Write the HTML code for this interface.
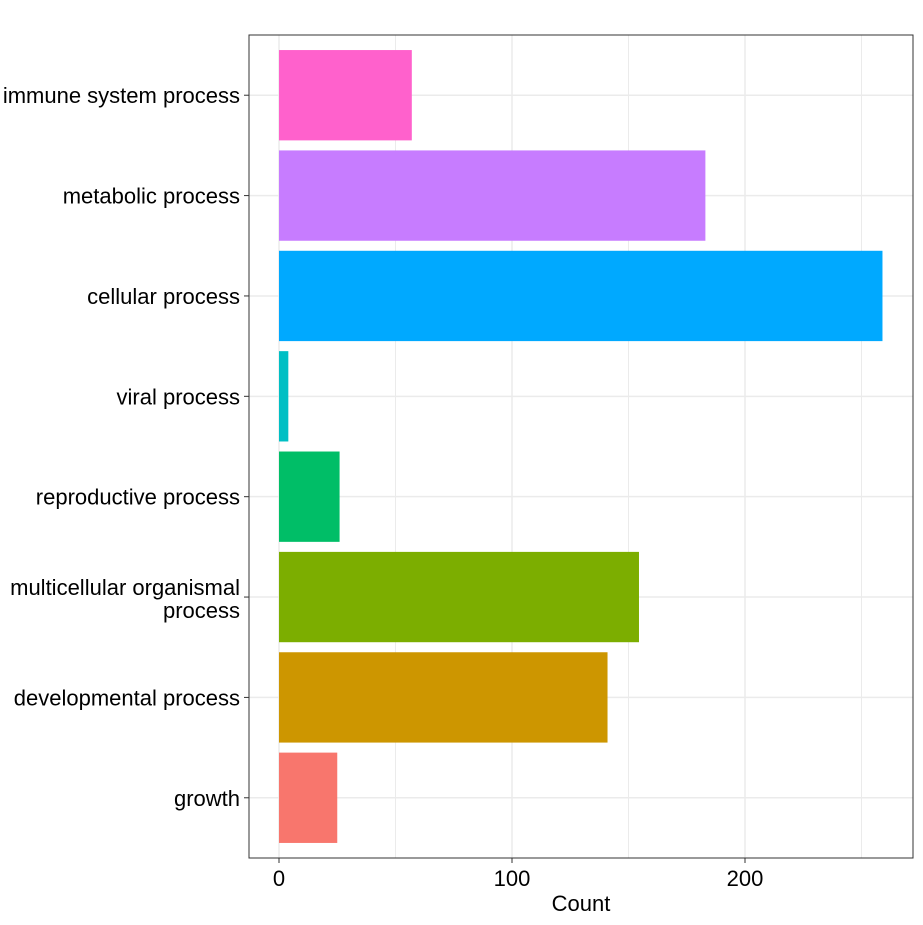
<!DOCTYPE html>
<html><head><meta charset="utf-8"><style>
body{margin:0;background:#fff;}
svg text{font-family:"Liberation Sans",Arial,sans-serif;}
</style></head><body>
<svg id="chart" width="923" height="920" xmlns="http://www.w3.org/2000/svg">
<rect x="0" y="0" width="923" height="920" fill="#fff"/>
<g id="grid"></g><g id="bars"></g><g id="axes"></g>
</svg>
<script>
const categories = ["immune system process","metabolic process","cellular process","viral process","reproductive process","multicellular organismal process","developmental process","growth"];
const counts = [57, 183, 259, 4, 26, 154.5, 141, 25];
const colors = ["#FF61CC","#C77CFF","#00A9FF","#00BFC4","#00BE67","#7CAE00","#CD9600","#F8766D"];
const xTicks = [0, 100, 200];
const xTickLabels = ["0","100","200"];

const NS="http://www.w3.org/2000/svg";
const L=249,R=913,T=35,B=858;
const FS=22;
const x=v=>279+v*2.33;
const step=(B-T)/(categories.length-1+1.2);
const yc=i=>T+step*(i+0.6);
const bh=step*0.9;
function mk(tag,attrs,parent){const e=document.createElementNS(NS,tag);for(const k in attrs)e.setAttribute(k,attrs[k]);parent.appendChild(e);return e;}
const grid=document.getElementById('grid'),bars=document.getElementById('bars'),axes=document.getElementById('axes');
for(let i=0;i<xTicks.length-1;i++){const m=(xTicks[i]+xTicks[i+1])/2;const g=mk('line',{x1:x(m),x2:x(m),y1:T,y2:B,stroke:'#ebebeb','stroke-width':1},grid);

}
{const m=xTicks[xTicks.length-1]+50;if(x(m)<R){const g=mk('line',{x1:x(m),x2:x(m),y1:T,y2:B,stroke:'#ebebeb','stroke-width':1},grid);

}}
xTicks.forEach((t,i)=>{const g=mk('line',{x1:x(t),x2:x(t),y1:T,y2:B,stroke:'#ebebeb','stroke-width':1.5},grid);


const tk=mk('line',{x1:x(t),x2:x(t),y1:B,y2:B+5,stroke:'#333','stroke-width':1},axes);


const tx=mk('text',{x:x(t),y:B+28,'text-anchor':'middle','font-size':FS,fill:'#000'},axes);tx.textContent=xTickLabels[i];

});
categories.forEach((c,i)=>{const y=yc(i);
const g=mk('line',{x1:L,x2:R,y1:y,y2:y,stroke:'#ebebeb','stroke-width':1.5},grid);


const r=mk('rect',{x:x(0),y:y-bh/2,width:x(counts[i])-x(0),height:bh,fill:colors[i]},bars);


const tk=mk('line',{x1:L-5,x2:L,y1:y,y2:y,stroke:'#333','stroke-width':1},axes);


const tx=mk('text',{x:L-9,y:y+8,'text-anchor':'end','font-size':FS,fill:'#000'},axes);


if(c==="multicellular organismal process"){tx.setAttribute('y',y-2);
const a=mk('tspan',{x:L-9},tx);a.textContent="multicellular organismal";
const b=mk('tspan',{x:L-9,dy:23},tx);b.textContent="process";}
else tx.textContent=c;});
const frame=mk('rect',{x:L,y:T,width:R-L,height:B-T,fill:'none',stroke:'#333','stroke-width':1},axes);


const xt=mk('text',{x:(L+R)/2,y:911,'text-anchor':'middle','font-size':FS,fill:'#000'},axes);xt.textContent="Count";


</script>
</body></html>
